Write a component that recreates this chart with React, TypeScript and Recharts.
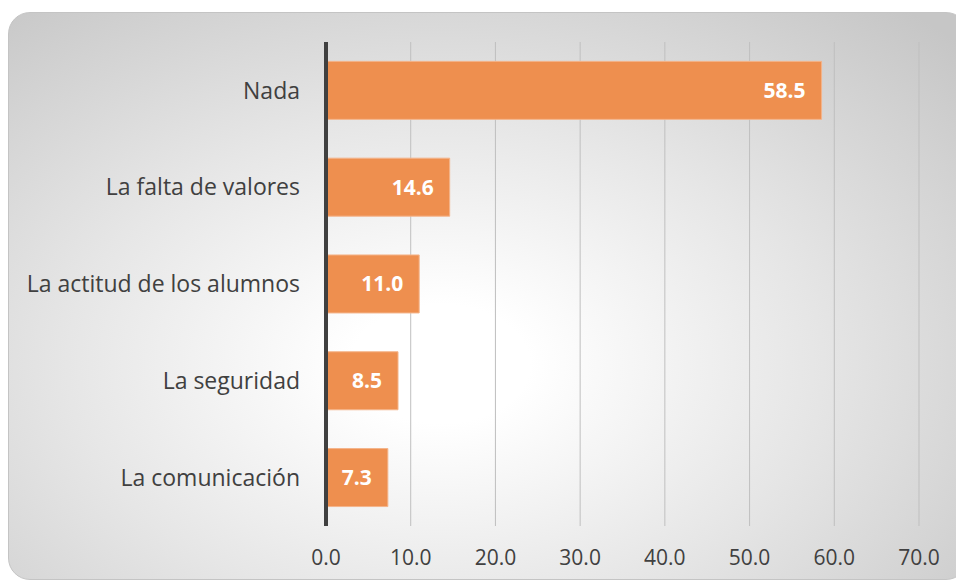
import {
  BarChart,
  Bar,
  XAxis,
  YAxis,
  CartesianGrid,
  ReferenceLine,
  LabelList,
} from 'recharts';

const categories = [
  'Nada',
  'La falta de valores ',
  'La actitud de los alumnos',
  'La seguridad',
  'La comunicación',
];
const values = [58.5, 14.6, 11.0, 8.5, 7.3];
const xTicks = [0, 10, 20, 30, 40, 50, 60, 70];

const data = categories.map((name, i) => ({ name, value: values[i] }));

const FONT = '"Open Sans", sans-serif';

const App = () => {
  return (
    <div style={{ position: 'absolute', left: 0, top: 0, width: 956, height: 581, overflow: 'hidden', background: '#fff' }}>
      {/* card background */}
      <div
        style={{
          position: 'absolute',
          left: 8,
          top: 12,
          width: 960,
          height: 568,
          borderRadius: 22,
          border: '1px solid #c4c4c4',
          boxSizing: 'border-box',
          background: 'radial-gradient(ellipse at 45% 62%, #ffffff 0%, #ffffff 12%, #e6e6e6 50%, #c6c6c6 95%)',
        }}
      />
      <div style={{ position: 'absolute', left: 0, top: 0 }}>
        <BarChart
          width={956}
          height={581}
          data={data}
          layout="vertical"
          margin={{ top: 42, right: 37, bottom: 25, left: 0 }}
          barCategoryGap="20%"
        >
          <CartesianGrid horizontal={false} vertical={true} stroke="#bfbfbf" strokeWidth={1} />
          <XAxis
            type="number"
            domain={[0, 70]}
            ticks={xTicks}
            height={30}
            tickFormatter={(v: number) => v.toFixed(1)}
            axisLine={false}
            tickLine={false}
            tickSize={0}
            tickMargin={24}
            tick={{ fill: '#404040', fontSize: 21, fontFamily: FONT }}
          />
          <YAxis
            type="category"
            dataKey="name"
            width={326}
            axisLine={false}
            tickLine={false}
            tickSize={0}
            tickMargin={26}
            tick={{ fill: '#404040', fontSize: 23, fontFamily: FONT }}
          />
          <Bar dataKey="value" fill="#ee8f4f" stroke="#f4b48a" strokeWidth={1} isAnimationActive={false}>
            <LabelList
              dataKey="value"
              position="insideRight"
              offset={16}
              formatter={(v: number) => v.toFixed(1)}
              style={{ fill: '#ffffff', fontSize: 21, fontWeight: 700, fontFamily: FONT }}
            />
          </Bar>
          <ReferenceLine x={0} stroke="#404040" strokeWidth={4} />
        </BarChart>
      </div>
    </div>
  );
};

export default App;
